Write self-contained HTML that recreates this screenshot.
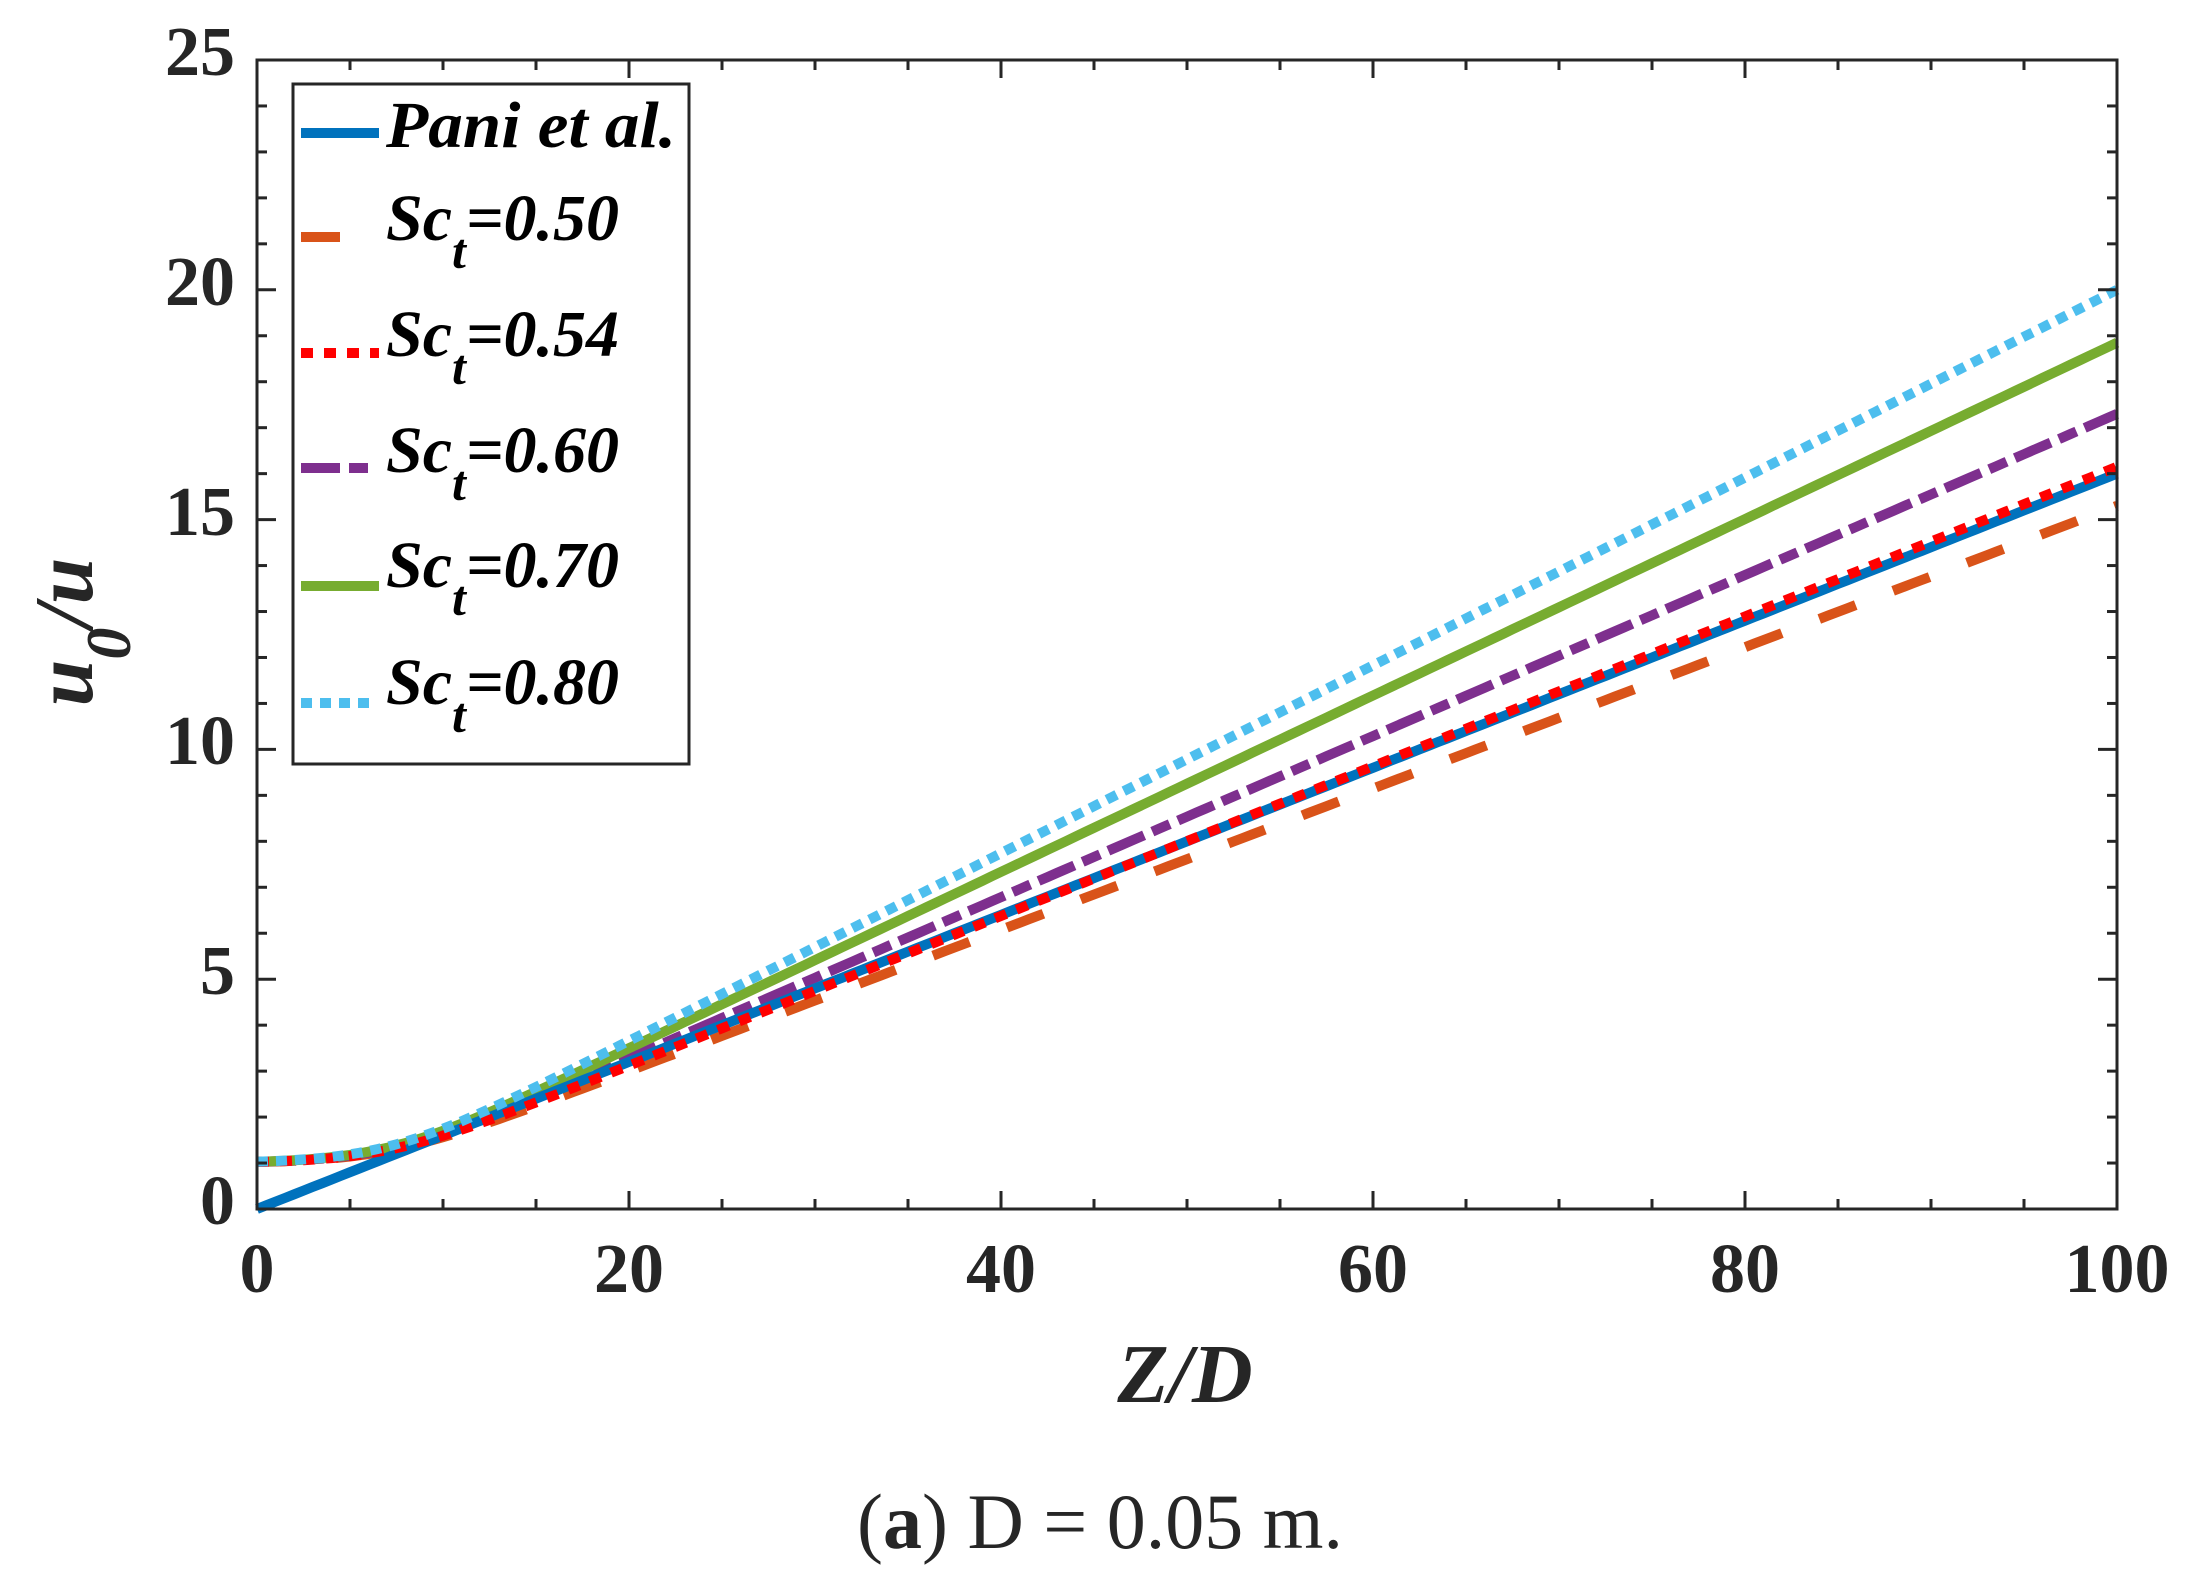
<!DOCTYPE html>
<html><head><meta charset="utf-8"><style>
html,body{margin:0;padding:0;background:#fff;}
svg{display:block;}
text{font-family:"Liberation Serif",serif;fill:#262626;}
</style></head><body>
<svg id="s" width="2190" height="1591" viewBox="0 0 2190 1591" xmlns="http://www.w3.org/2000/svg">
<rect width="2190" height="1591" fill="#fff"/>
<g id="series" fill="none" stroke-linejoin="round"></g>
<g id="ticks" stroke="#262626" stroke-width="3"></g>
<rect x="257" y="60" width="1860" height="1149" fill="none" stroke="#262626" stroke-width="3"/>
<g font-weight="bold" font-size="70" text-anchor="end">
<text x="235" y="1224">0</text>
<text x="235" y="994">5</text>
<text x="235" y="764">10</text>
<text x="235" y="535">15</text>
<text x="235" y="305">20</text>
<text x="235" y="75">25</text>
</g>
<g font-weight="bold" font-size="70" text-anchor="middle">
<text x="257" y="1292">0</text>
<text x="629" y="1292">20</text>
<text x="1001" y="1292">40</text>
<text x="1373" y="1292">60</text>
<text x="1745" y="1292">80</text>
<text x="2117" y="1292">100</text>
</g>
<text x="1185" y="1402" font-size="84" font-weight="bold" font-style="italic" text-anchor="middle">Z/D</text>
<text transform="translate(92,632) rotate(-90)" font-size="84" font-weight="bold" font-style="italic" text-anchor="middle">u<tspan font-size="64" dy="38">0</tspan><tspan dy="-38">/u</tspan></text>
<text x="1100" y="1548" font-size="78" text-anchor="middle">(<tspan font-weight="bold">a</tspan>) D = 0.05 m.</text>
<rect x="293" y="84" width="396" height="680" fill="#fff" stroke="#262626" stroke-width="3"/>
<g id="leg" stroke-width="10" fill="none"></g>
<g font-size="66" font-weight="bold" font-style="italic" fill="#000">
<text x="386" y="147" style="fill:#000" textLength="290" lengthAdjust="spacingAndGlyphs">Pani et al.</text>
<text x="386" y="240" style="fill:#000">Sc<tspan font-size="50" dy="28">t</tspan><tspan dy="-28">=0.50</tspan></text>
<text x="386" y="356" style="fill:#000">Sc<tspan font-size="50" dy="28">t</tspan><tspan dy="-28">=0.54</tspan></text>
<text x="386" y="472" style="fill:#000">Sc<tspan font-size="50" dy="28">t</tspan><tspan dy="-28">=0.60</tspan></text>
<text x="386" y="587" style="fill:#000">Sc<tspan font-size="50" dy="28">t</tspan><tspan dy="-28">=0.70</tspan></text>
<text x="386" y="704" style="fill:#000">Sc<tspan font-size="50" dy="28">t</tspan><tspan dy="-28">=0.80</tspan></text>
</g>
</svg>
<script>
(function(){
var NS="http://www.w3.org/2000/svg";
var X0=257,X1=2117,Y0=1209,Y1=60;
function px(x){return X0+x*(X1-X0)/100;}
function py(y){return Y0-y*(Y0-Y1)/25;}
function el(n,a,p){var e=document.createElementNS(NS,n);for(var k in a)e.setAttribute(k,a[k]);p.appendChild(e);return e;}
var tk=document.getElementById('ticks');
for(var i=0;i<=20;i++){var x=px(i*5),L=(i%4==0)?18:10;
 el('line',{x1:x,y1:Y0,x2:x,y2:Y0-L},tk);el('line',{x1:x,y1:Y1,x2:x,y2:Y1+L},tk);}
for(var j=0;j<=25;j++){var y=py(j),L=(j%5==0)?19:10;
 el('line',{x1:X0,y1:y,x2:X0+L,y2:y},tk);el('line',{x1:X1,y1:y,x2:X1-L,y2:y},tk);}
var S=[
 {c:'#D95319',e:15.3,d:'39 40'},
 {c:'#7E2F8E',e:17.3,d:'39 9 19 9'},
 {c:'#77AC30',e:18.85,d:''},
 {c:'#FF0000',e:16.15,d:'12 11'},
 {c:'#4DBEEE',e:20.0,d:'11 8'}
];
var g=document.getElementById('series');
function curve(f){var s='';for(var x=0;x<=100;x+=0.5){s+=(x?'L':'M')+px(x).toFixed(1)+' '+py(f(x)).toFixed(1);}return s;}
var order=[0,1,2,'b',3,4];
order.forEach(function(k){
 if(k==='b'){el('path',{d:curve(function(x){return 0.16*x;}),stroke:'#0072BD','stroke-width':10},g);return;}
 var o=S[k],x0=7,w=2.5,s=(o.e-1)/(100-x0);
 var f=function(x){return 1+s*w*Math.log(1+Math.exp((x-x0)/w));};
 var a={d:curve(f),stroke:o.c,'stroke-width':10};if(o.d)a['stroke-dasharray']=o.d;
 el('path',a,g);
});
var lg=document.getElementById('leg');
el('line',{x1:301,y1:133,x2:379,y2:133,stroke:'#0072BD'},lg);
el('line',{x1:301,y1:237,x2:340,y2:237,stroke:'#D95319'},lg);
el('line',{x1:301,y1:353,x2:379,y2:353,stroke:'#FF0000','stroke-dasharray':'12 11'},lg);
el('line',{x1:301,y1:468,x2:369,y2:468,stroke:'#7E2F8E','stroke-dasharray':'39 9 19 9'},lg);
el('line',{x1:301,y1:586,x2:379,y2:586,stroke:'#77AC30'},lg);
el('line',{x1:301,y1:703,x2:369,y2:703,stroke:'#4DBEEE','stroke-dasharray':'11 8'},lg);
})();
</script>
</body></html>
